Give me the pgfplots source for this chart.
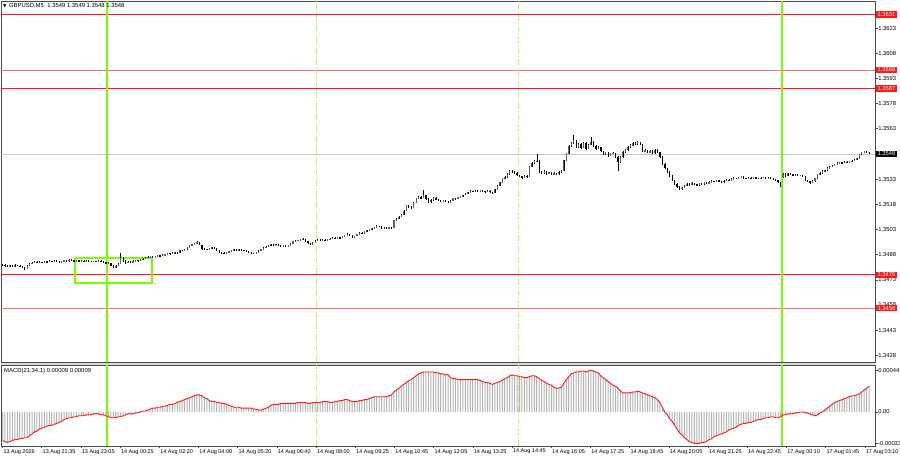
\documentclass[border=0pt]{standalone}
\usepackage{fontspec}
\setmainfont{Liberation Sans}
\newfontfamily\symfont{DejaVu Sans}
\usepackage{pgfplots}
\usepackage{pgfplotstable}
\pgfplotsset{compat=1.18}

\definecolor{mtgreen}{HTML}{7CFC00}
\definecolor{mtlight}{HTML}{C2F27E}
\definecolor{mtred}{HTML}{FF1A1A}
\definecolor{mtpink}{HTML}{FF6E6E}
\definecolor{histgray}{HTML}{B4B4B4}
\definecolor{framegray}{HTML}{4A4A4A}
\definecolor{bullgray}{HTML}{606060}

% GBPUSD M5 bars: open high low close, MACD(21,34,1)
\pgfplotstableread{
o h l c m
1.34822 1.34825 1.34815 1.34818 -30e-5
1.34818 1.34821 1.34809 1.34812 -31e-5
1.34812 1.34815 1.34804 1.34808 -32e-5
1.34808 1.34818 1.34806 1.34815 -31e-5
1.34815 1.34817 1.34808 1.34811 -30e-5
1.34811 1.34821 1.34809 1.34818 -29e-5
1.34818 1.34820 1.34810 1.34813 -29e-5
1.34813 1.34815 1.34805 1.34808 -28e-5
1.34808 1.34812 1.34801 1.34805 -28e-5
1.34805 1.34807 1.34790 1.34796 -27e-5
1.34796 1.34815 1.34794 1.34812 -27e-5
1.34812 1.34829 1.34810 1.34826 -25e-5
1.34826 1.34836 1.34823 1.34832 -23e-5
1.34832 1.34841 1.34829 1.34838 -21e-5
1.34838 1.34840 1.34827 1.34830 -20e-5
1.34830 1.34839 1.34828 1.34836 -18e-5
1.34836 1.34838 1.34830 1.34833 -17e-5
1.34833 1.34843 1.34831 1.34840 -16e-5
1.34840 1.34842 1.34833 1.34836 -15e-5
1.34836 1.34845 1.34834 1.34842 -14e-5
1.34842 1.34844 1.34835 1.34838 -14e-5
1.34838 1.34847 1.34836 1.34844 -13e-5
1.34844 1.34846 1.34837 1.34840 -12e-5
1.34840 1.34842 1.34832 1.34835 -11e-5
1.34835 1.34844 1.34833 1.34841 -10e-5
1.34841 1.34848 1.34839 1.34845 -8e-5
1.34845 1.34847 1.34837 1.34840 -7e-5
1.34840 1.34853 1.34838 1.34850 -6e-5
1.34850 1.34852 1.34843 1.34846 -6e-5
1.34846 1.34848 1.34839 1.34842 -5e-5
1.34842 1.34847 1.34840 1.34845 -5e-5
1.34845 1.34847 1.34839 1.34841 -4e-5
1.34841 1.34845 1.34839 1.34843 -4e-5
1.34843 1.34845 1.34838 1.34840 -4e-5
1.34840 1.34846 1.34838 1.34844 -3e-5
1.34844 1.34846 1.34839 1.34841 -3e-5
1.34841 1.34843 1.34836 1.34838 -3e-5
1.34838 1.34844 1.34836 1.34842 -2e-5
1.34842 1.34844 1.34838 1.34840 -2e-5
1.34840 1.34845 1.34838 1.34843 -2e-5
1.34843 1.34845 1.34835 1.34838 -3e-5
1.34838 1.34840 1.34831 1.34834 -3e-5
1.34834 1.34836 1.34825 1.34828 -4e-5
1.34828 1.34833 1.34824 1.34830 -5e-5
1.34830 1.34832 1.34811 1.34815 -6e-5
1.34815 1.34818 1.34800 1.34805 -6e-5
1.34805 1.34815 1.34802 1.34812 -6e-5
1.34812 1.34828 1.34810 1.34824 -5e-5
1.34824 1.34888 1.34822 1.34860 -5e-5
1.34860 1.34864 1.34838 1.34842 -4e-5
1.34842 1.34845 1.34826 1.34830 -3e-5
1.34830 1.34841 1.34828 1.34838 -2e-5
1.34838 1.34840 1.34831 1.34834 -2e-5
1.34834 1.34845 1.34832 1.34842 -2e-5
1.34842 1.34850 1.34840 1.34847 -1e-5
1.34847 1.34849 1.34840 1.34843 -1e-5
1.34843 1.34855 1.34841 1.34852 0
1.34852 1.34858 1.34850 1.34855 1e-5
1.34855 1.34863 1.34853 1.34860 1e-5
1.34860 1.34869 1.34858 1.34866 2e-5
1.34866 1.34872 1.34864 1.34869 3e-5
1.34869 1.34871 1.34862 1.34865 4e-5
1.34865 1.34873 1.34863 1.34870 4e-5
1.34870 1.34877 1.34868 1.34874 5e-5
1.34874 1.34876 1.34869 1.34872 5e-5
1.34872 1.34881 1.34870 1.34878 6e-5
1.34878 1.34885 1.34876 1.34882 6e-5
1.34882 1.34891 1.34880 1.34888 7e-5
1.34888 1.34890 1.34882 1.34885 8e-5
1.34885 1.34893 1.34883 1.34890 8e-5
1.34890 1.34896 1.34888 1.34893 9e-5
1.34893 1.34895 1.34887 1.34890 10e-5
1.34890 1.34909 1.34888 1.34906 11e-5
1.34906 1.34909 1.34900 1.34903 12e-5
1.34903 1.34915 1.34901 1.34912 13e-5
1.34912 1.34925 1.34910 1.34922 14e-5
1.34922 1.34938 1.34920 1.34935 15e-5
1.34935 1.34944 1.34932 1.34940 16e-5
1.34940 1.34950 1.34938 1.34946 17e-5
1.34946 1.34958 1.34943 1.34952 18e-5
1.34952 1.34955 1.34935 1.34938 18e-5
1.34938 1.34940 1.34910 1.34915 17e-5
1.34915 1.34918 1.34906 1.34910 15e-5
1.34910 1.34916 1.34907 1.34912 14e-5
1.34912 1.34921 1.34910 1.34918 12e-5
1.34918 1.34926 1.34915 1.34922 11e-5
1.34922 1.34924 1.34912 1.34915 11e-5
1.34915 1.34917 1.34902 1.34905 10e-5
1.34905 1.34907 1.34890 1.34893 10e-5
1.34893 1.34896 1.34886 1.34890 9e-5
1.34890 1.34893 1.34883 1.34886 9e-5
1.34886 1.34895 1.34884 1.34892 8e-5
1.34892 1.34901 1.34890 1.34898 7e-5
1.34898 1.34907 1.34896 1.34904 6e-5
1.34904 1.34913 1.34902 1.34910 5e-5
1.34910 1.34912 1.34903 1.34906 5e-5
1.34906 1.34915 1.34904 1.34912 5e-5
1.34912 1.34914 1.34905 1.34908 4e-5
1.34908 1.34910 1.34901 1.34904 4e-5
1.34904 1.34906 1.34897 1.34900 4e-5
1.34900 1.34902 1.34892 1.34895 4e-5
1.34895 1.34897 1.34884 1.34888 4e-5
1.34888 1.34891 1.34882 1.34886 3e-5
1.34886 1.34897 1.34884 1.34894 3e-5
1.34894 1.34905 1.34892 1.34902 2e-5
1.34902 1.34915 1.34900 1.34912 2e-5
1.34912 1.34923 1.34910 1.34920 3e-5
1.34920 1.34929 1.34918 1.34926 4e-5
1.34926 1.34935 1.34924 1.34932 5e-5
1.34932 1.34943 1.34930 1.34940 7e-5
1.34940 1.34943 1.34935 1.34938 8e-5
1.34938 1.34945 1.34936 1.34942 8e-5
1.34942 1.34944 1.34933 1.34936 8e-5
1.34936 1.34938 1.34927 1.34930 9e-5
1.34930 1.34937 1.34928 1.34934 9e-5
1.34934 1.34936 1.34925 1.34928 9e-5
1.34928 1.34937 1.34926 1.34934 9e-5
1.34934 1.34948 1.34932 1.34945 9e-5
1.34945 1.34961 1.34943 1.34958 9e-5
1.34958 1.34965 1.34956 1.34962 9e-5
1.34962 1.34969 1.34960 1.34966 10e-5
1.34966 1.34973 1.34964 1.34970 10e-5
1.34970 1.34976 1.34968 1.34972 10e-5
1.34972 1.34974 1.34957 1.34960 10e-5
1.34960 1.34962 1.34945 1.34948 9e-5
1.34948 1.34950 1.34937 1.34940 9e-5
1.34940 1.34953 1.34938 1.34950 10e-5
1.34950 1.34965 1.34948 1.34962 10e-5
1.34962 1.34971 1.34960 1.34968 10e-5
1.34968 1.34970 1.34964 1.34966 10e-5
1.34966 1.34970 1.34964 1.34968 11e-5
1.34968 1.34970 1.34965 1.34967 11e-5
1.34967 1.34972 1.34965 1.34970 11e-5
1.34970 1.34978 1.34968 1.34975 10e-5
1.34975 1.34983 1.34973 1.34980 10e-5
1.34980 1.34982 1.34973 1.34976 11e-5
1.34976 1.34987 1.34974 1.34984 11e-5
1.34984 1.34986 1.34975 1.34978 12e-5
1.34978 1.34993 1.34976 1.34990 12e-5
1.34990 1.34999 1.34988 1.34996 13e-5
1.34996 1.35006 1.34994 1.35002 13e-5
1.35002 1.35004 1.34991 1.34994 12e-5
1.34994 1.34996 1.34978 1.34982 11e-5
1.34982 1.34993 1.34980 1.34990 11e-5
1.34990 1.35003 1.34988 1.35000 11e-5
1.35000 1.35013 1.34998 1.35010 12e-5
1.35010 1.35012 1.35003 1.35006 12e-5
1.35006 1.35021 1.35004 1.35018 13e-5
1.35018 1.35027 1.35016 1.35024 13e-5
1.35024 1.35033 1.35022 1.35030 14e-5
1.35030 1.35039 1.35028 1.35036 15e-5
1.35036 1.35045 1.35034 1.35042 16e-5
1.35042 1.35054 1.35040 1.35050 16e-5
1.35050 1.35052 1.35043 1.35046 16e-5
1.35046 1.35048 1.35035 1.35038 16e-5
1.35038 1.35043 1.35036 1.35040 16e-5
1.35040 1.35042 1.35033 1.35036 16e-5
1.35036 1.35045 1.35034 1.35042 17e-5
1.35042 1.35044 1.35037 1.35040 18e-5
1.35040 1.35088 1.35038 1.35085 21e-5
1.35085 1.35096 1.35082 1.35092 23e-5
1.35092 1.35108 1.35090 1.35104 25e-5
1.35104 1.35122 1.35101 1.35118 27e-5
1.35118 1.35145 1.35115 1.35140 29e-5
1.35140 1.35178 1.35138 1.35172 31e-5
1.35172 1.35176 1.35160 1.35166 33e-5
1.35166 1.35170 1.35152 1.35158 34e-5
1.35158 1.35192 1.35155 1.35188 36e-5
1.35188 1.35220 1.35185 1.35215 38e-5
1.35215 1.35228 1.35210 1.35222 40e-5
1.35222 1.35230 1.35212 1.35218 41e-5
1.35218 1.35262 1.35215 1.35232 42e-5
1.35232 1.35236 1.35205 1.35212 42e-5
1.35212 1.35215 1.35186 1.35192 42e-5
1.35192 1.35210 1.35188 1.35205 42e-5
1.35205 1.35222 1.35200 1.35218 42e-5
1.35218 1.35222 1.35205 1.35210 41e-5
1.35210 1.35214 1.35198 1.35202 41e-5
1.35202 1.35206 1.35192 1.35196 40e-5
1.35196 1.35208 1.35193 1.35204 40e-5
1.35204 1.35207 1.35194 1.35198 39e-5
1.35198 1.35201 1.35188 1.35192 39e-5
1.35192 1.35204 1.35189 1.35200 36e-5
1.35200 1.35220 1.35198 1.35216 35e-5
1.35216 1.35219 1.35208 1.35212 35e-5
1.35212 1.35224 1.35210 1.35220 34e-5
1.35220 1.35231 1.35218 1.35228 34e-5
1.35228 1.35238 1.35225 1.35235 34e-5
1.35235 1.35246 1.35233 1.35242 34e-5
1.35242 1.35253 1.35240 1.35250 34e-5
1.35250 1.35262 1.35248 1.35258 34e-5
1.35258 1.35261 1.35252 1.35255 34e-5
1.35255 1.35264 1.35253 1.35260 34e-5
1.35260 1.35262 1.35253 1.35256 34e-5
1.35256 1.35265 1.35254 1.35262 33e-5
1.35262 1.35264 1.35255 1.35258 32e-5
1.35258 1.35260 1.35250 1.35254 31e-5
1.35254 1.35263 1.35252 1.35260 31e-5
1.35260 1.35262 1.35248 1.35252 30e-5
1.35252 1.35255 1.35242 1.35246 29e-5
1.35246 1.35272 1.35244 1.35268 30e-5
1.35268 1.35295 1.35265 1.35290 31e-5
1.35290 1.35315 1.35287 1.35310 32e-5
1.35310 1.35338 1.35306 1.35334 33e-5
1.35334 1.35348 1.35330 1.35342 35e-5
1.35342 1.35365 1.35338 1.35360 36e-5
1.35360 1.35386 1.35356 1.35380 38e-5
1.35380 1.35384 1.35366 1.35372 39e-5
1.35372 1.35378 1.35362 1.35368 38e-5
1.35368 1.35371 1.35346 1.35352 38e-5
1.35352 1.35356 1.35340 1.35345 37e-5
1.35345 1.35350 1.35332 1.35338 37e-5
1.35338 1.35355 1.35335 1.35350 36e-5
1.35350 1.35354 1.35336 1.35342 36e-5
1.35342 1.35410 1.35340 1.35405 37e-5
1.35405 1.35430 1.35400 1.35425 38e-5
1.35425 1.35445 1.35420 1.35438 38e-5
1.35438 1.35478 1.35432 1.35440 37e-5
1.35440 1.35444 1.35366 1.35372 35e-5
1.35372 1.35378 1.35360 1.35365 33e-5
1.35365 1.35382 1.35362 1.35378 32e-5
1.35378 1.35381 1.35356 1.35362 30e-5
1.35362 1.35375 1.35358 1.35370 29e-5
1.35370 1.35373 1.35352 1.35358 28e-5
1.35358 1.35370 1.35354 1.35366 26e-5
1.35366 1.35369 1.35355 1.35360 25e-5
1.35360 1.35376 1.35357 1.35372 25e-5
1.35372 1.35385 1.35368 1.35380 26e-5
1.35380 1.35445 1.35376 1.35440 30e-5
1.35440 1.35488 1.35436 1.35482 34e-5
1.35482 1.35534 1.35478 1.35528 37e-5
1.35528 1.35552 1.35522 1.35545 40e-5
1.35545 1.35592 1.35540 1.35560 41e-5
1.35560 1.35564 1.35516 1.35522 42e-5
1.35522 1.35546 1.35518 1.35540 42e-5
1.35540 1.35544 1.35512 1.35518 43e-5
1.35518 1.35550 1.35514 1.35545 43e-5
1.35545 1.35549 1.35506 1.35512 42e-5
1.35512 1.35540 1.35508 1.35535 43e-5
1.35535 1.35580 1.35530 1.35550 44e-5
1.35550 1.35554 1.35520 1.35525 43e-5
1.35525 1.35530 1.35506 1.35512 42e-5
1.35512 1.35526 1.35508 1.35520 41e-5
1.35520 1.35524 1.35490 1.35496 38e-5
1.35496 1.35500 1.35474 1.35480 36e-5
1.35480 1.35494 1.35476 1.35488 34e-5
1.35488 1.35492 1.35464 1.35470 32e-5
1.35470 1.35487 1.35466 1.35482 30e-5
1.35482 1.35490 1.35478 1.35485 28e-5
1.35485 1.35488 1.35456 1.35462 27e-5
1.35462 1.35466 1.35380 1.35430 25e-5
1.35430 1.35468 1.35426 1.35462 22e-5
1.35462 1.35495 1.35458 1.35490 20e-5
1.35490 1.35510 1.35486 1.35505 20e-5
1.35505 1.35526 1.35500 1.35520 20e-5
1.35520 1.35536 1.35516 1.35530 20e-5
1.35530 1.35550 1.35526 1.35545 21e-5
1.35545 1.35550 1.35532 1.35538 21e-5
1.35538 1.35554 1.35534 1.35548 22e-5
1.35548 1.35552 1.35530 1.35535 21e-5
1.35535 1.35538 1.35490 1.35495 20e-5
1.35495 1.35508 1.35490 1.35502 19e-5
1.35502 1.35506 1.35484 1.35490 18e-5
1.35490 1.35504 1.35486 1.35498 17e-5
1.35498 1.35502 1.35480 1.35485 16e-5
1.35485 1.35510 1.35482 1.35505 15e-5
1.35505 1.35508 1.35485 1.35490 13e-5
1.35490 1.35494 1.35456 1.35462 10e-5
1.35462 1.35466 1.35414 1.35420 5e-5
1.35420 1.35424 1.35388 1.35395 0
1.35395 1.35398 1.35366 1.35372 -3e-5
1.35372 1.35376 1.35342 1.35348 -7e-5
1.35348 1.35352 1.35316 1.35322 -10e-5
1.35322 1.35326 1.35294 1.35300 -14e-5
1.35300 1.35305 1.35276 1.35282 -18e-5
1.35282 1.35286 1.35264 1.35270 -22e-5
1.35270 1.35284 1.35266 1.35278 -24e-5
1.35278 1.35295 1.35274 1.35290 -27e-5
1.35290 1.35307 1.35286 1.35302 -29e-5
1.35302 1.35306 1.35291 1.35296 -31e-5
1.35296 1.35310 1.35292 1.35306 -32e-5
1.35306 1.35309 1.35296 1.35300 -33e-5
1.35300 1.35303 1.35289 1.35294 -33e-5
1.35294 1.35309 1.35291 1.35305 -33e-5
1.35305 1.35308 1.35296 1.35300 -32e-5
1.35300 1.35313 1.35297 1.35310 -32e-5
1.35310 1.35312 1.35298 1.35302 -31e-5
1.35302 1.35316 1.35299 1.35312 -29e-5
1.35312 1.35322 1.35309 1.35318 -28e-5
1.35318 1.35321 1.35311 1.35315 -26e-5
1.35315 1.35326 1.35312 1.35322 -25e-5
1.35322 1.35325 1.35312 1.35316 -24e-5
1.35316 1.35319 1.35308 1.35312 -23e-5
1.35312 1.35323 1.35309 1.35320 -22e-5
1.35320 1.35330 1.35317 1.35326 -21e-5
1.35326 1.35329 1.35318 1.35322 -19e-5
1.35322 1.35334 1.35319 1.35330 -18e-5
1.35330 1.35340 1.35327 1.35336 -17e-5
1.35336 1.35339 1.35328 1.35332 -16e-5
1.35332 1.35344 1.35329 1.35340 -14e-5
1.35340 1.35349 1.35337 1.35345 -13e-5
1.35345 1.35347 1.35332 1.35336 -12e-5
1.35336 1.35339 1.35328 1.35332 -12e-5
1.35332 1.35341 1.35329 1.35338 -11e-5
1.35338 1.35340 1.35330 1.35334 -11e-5
1.35334 1.35343 1.35331 1.35340 -10e-5
1.35340 1.35342 1.35332 1.35336 -9e-5
1.35336 1.35338 1.35329 1.35332 -8e-5
1.35332 1.35341 1.35329 1.35338 -8e-5
1.35338 1.35345 1.35335 1.35342 -7e-5
1.35342 1.35344 1.35333 1.35336 -6e-5
1.35336 1.35341 1.35333 1.35338 -6e-5
1.35338 1.35340 1.35331 1.35334 -5e-5
1.35334 1.35336 1.35327 1.35330 -5e-5
1.35330 1.35332 1.35318 1.35322 -6e-5
1.35322 1.35325 1.35308 1.35312 -6e-5
1.35312 1.35315 1.35280 1.35286 -5e-5
1.35340 1.35368 1.35336 1.35362 -3e-5
1.35362 1.35366 1.35345 1.35350 -3e-5
1.35350 1.35369 1.35347 1.35365 -2e-5
1.35365 1.35368 1.35354 1.35358 -2e-5
1.35358 1.35361 1.35348 1.35352 -2e-5
1.35352 1.35359 1.35349 1.35356 -1e-5
1.35356 1.35358 1.35346 1.35350 -1e-5
1.35350 1.35357 1.35347 1.35354 0
1.35354 1.35356 1.35341 1.35345 0
1.35345 1.35347 1.35317 1.35322 -1e-5
1.35322 1.35325 1.35310 1.35315 -1e-5
1.35315 1.35318 1.35303 1.35308 -2e-5
1.35308 1.35322 1.35305 1.35318 -3e-5
1.35318 1.35339 1.35315 1.35335 -4e-5
1.35335 1.35362 1.35332 1.35358 -3e-5
1.35358 1.35370 1.35355 1.35366 -1e-5
1.35366 1.35382 1.35363 1.35378 0
1.35378 1.35386 1.35375 1.35382 2e-5
1.35382 1.35399 1.35379 1.35395 4e-5
1.35395 1.35406 1.35392 1.35402 6e-5
1.35402 1.35412 1.35399 1.35408 8e-5
1.35408 1.35422 1.35405 1.35418 10e-5
1.35418 1.35429 1.35415 1.35425 11e-5
1.35425 1.35434 1.35422 1.35430 12e-5
1.35430 1.35433 1.35424 1.35427 13e-5
1.35427 1.35436 1.35424 1.35432 14e-5
1.35432 1.35435 1.35425 1.35428 15e-5
1.35428 1.35438 1.35425 1.35435 16e-5
1.35435 1.35444 1.35432 1.35440 17e-5
1.35440 1.35448 1.35437 1.35445 17e-5
1.35445 1.35456 1.35442 1.35452 18e-5
1.35452 1.35482 1.35449 1.35478 19e-5
1.35478 1.35492 1.35475 1.35488 21e-5
1.35488 1.35500 1.35485 1.35496 23e-5
1.35496 1.35499 1.35486 1.35490 25e-5
1.35490 1.35490 1.35480 1.35480 27e-5
}\bars

\begin{document}
\begin{tikzpicture}[x=1pt,y=1pt]
\useasboundingbox (0,0) rectangle (900,460);
\coordinate (topP) at (1,459);
\coordinate (topM) at (1,94.5);
\pgfplotsset{
  mtpanel/.style={
    scale only axis, width=874pt,
    xmin=-0.61, xmax=354.4,
    axis line style={framegray, line width=0.8pt},
    tick style={framegray, line width=0.5pt},
    tick align=outside, major tick length=2.5pt,
    ytick pos=right, yticklabel pos=right,
    scaled y ticks=false, scaled x ticks=false,
    yticklabel style={anchor=west, inner sep=0.6pt, font=\fontsize{5.8}{6.3}\selectfont, text=black},
    xticklabel style={font=\fontsize{5.5}{6}\selectfont, text=black},
  },
  wick/.style={draw=none, mark=none, forget plot,
    error bars/.cd, y dir=both, y explicit, error mark=none,
    error bar style={draw=black, line width=0.45pt}},
  body/.style={draw=none, mark=none, forget plot,
    error bars/.cd, y dir=both, y explicit, error mark=none,
    error bar style={draw=#1, line width=1.15pt}},
}
\fill[gray!30] (1,94.5) rectangle (875,97.5);

% price panel
\begin{axis}[mtpanel, at={(topP)}, anchor=north west, height=361.5pt,
  ymin=1.34237, ymax=1.36391, clip=false, xtick=\empty,
  ytick={1.3428,1.3443,1.3458,1.3473,1.3488,1.3503,1.3518,1.3533,1.3548,1.3563,1.3578,1.3593,1.3608,1.3623},
  yticklabels={1.3428,1.3443,1.3458,1.3473,1.3488,1.3503,1.3518,1.3533,1.3548,1.3563,1.3578,1.3593,1.3608,1.3623}]
\addplot[mtred, line width=0.8pt, forget plot] coordinates {(-0.61,1.3631) (354.4,1.3631)};
\addplot[mtpink, line width=0.8pt, forget plot] coordinates {(-0.61,1.3598) (354.4,1.3598)};
\addplot[mtred, line width=1.5pt, forget plot] coordinates {(-0.61,1.3587) (354.4,1.3587)};
\addplot[mtred, line width=1.5pt, forget plot] coordinates {(-0.61,1.3476) (354.4,1.3476)};
\addplot[mtpink, line width=0.8pt, forget plot] coordinates {(-0.61,1.3456) (354.4,1.3456)};
\addplot[gray!45, line width=0.7pt, forget plot] coordinates {(-0.61,1.3548) (354.4,1.3548)};
\addplot[mtgreen, line width=1.2pt, forget plot] coordinates {(42.45,1.34237) (42.45,1.36391)};
\addplot[mtgreen, line width=1.2pt, forget plot] coordinates {(316.6,1.34237) (316.6,1.36391)};
\addplot[mtlight, line width=1pt, dash pattern=on 6pt off 2pt on 1pt off 2pt, forget plot] coordinates {(127.34,1.34237) (127.34,1.36391)};
\addplot[mtlight, line width=1pt, dash pattern=on 6pt off 2pt on 1pt off 2pt, forget plot] coordinates {(209.79,1.34237) (209.79,1.36391)};
\addplot[mtgreen, line width=1.5pt, forget plot] coordinates {(29.4,1.34859) (60.7,1.34859) (60.7,1.34710) (29.4,1.34710) (29.4,1.34859)};
\addplot[wick] table[x expr=\coordindex, y expr=0.5*(\thisrow{h}+\thisrow{l}), y error expr=0.5*(\thisrow{h}-\thisrow{l})] {\bars};
\addplot[body=bullgray] table[x expr=\coordindex, y expr={ifthenelse(\thisrow{c}>=\thisrow{o},0.5*(\thisrow{o}+\thisrow{c}),nan)}, y error expr={0.5*abs(\thisrow{c}-\thisrow{o})+0.000006}] {\bars};
\addplot[body=black] table[x expr=\coordindex, y expr={ifthenelse(\thisrow{c}<\thisrow{o},0.5*(\thisrow{o}+\thisrow{c}),nan)}, y error expr={0.5*abs(\thisrow{c}-\thisrow{o})+0.000006}] {\bars};
\node[anchor=west, inner sep=0, font=\fontsize{5.9}{6.4}\selectfont] at (axis description cs:0.0023,0.986)
  {{\symfont\fontsize{4.4}{5}\selectfont ▼}\hspace{2.5pt}GBPUSD,M5\hspace{3.5pt}1.3549 1.3549 1.3548 1.3548};
\coordinate (r1) at (axis cs:354.4,1.3631);
\coordinate (r2) at (axis cs:354.4,1.3598);
\coordinate (r3) at (axis cs:354.4,1.3587);
\coordinate (r4) at (axis cs:354.4,1.3476);
\coordinate (r5) at (axis cs:354.4,1.3456);
\coordinate (pc) at (axis cs:354.4,1.3548);
\end{axis}

\begin{scope}[every node/.style={anchor=west, inner xsep=1.6pt, inner ysep=1.1pt, text=white, font=\fontsize{5.8}{6.3}\selectfont, xshift=0.8pt}]
\node[fill=mtred] at (r1) {1.3631};
\node[fill=mtred] at (r2) {1.3598};
\node[fill=mtred] at (r3) {1.3587};
\node[fill=mtred] at (r4) {1.3476};
\node[fill=mtred] at (r5) {1.3456};
\node[fill=black] at (pc) {1.3548};
\end{scope}

% MACD panel
\begin{axis}[mtpanel, at={(topM)}, anchor=north west, height=80.5pt,
  ymin=-0.000357, ymax=0.000488,
  ytick={-0.00033,0,0.00044}, yticklabels={-0.00033,0.00,0.00044},
  xtick pos=bottom,
  xtick={0,15.92,31.84,47.76,63.68,79.6,95.52,111.44,127.36,143.28,159.2,175.12,191.04,206.96,222.88,238.8,254.72,270.64,286.56,302.48,318.4,334.32,350.24},
  xticklabels={13 Aug 2026,13 Aug 21:35,13 Aug 23:05,14 Aug 00:25,14 Aug 02:20,14 Aug 04:00,14 Aug 05:20,14 Aug 06:40,14 Aug 08:00,14 Aug 09:25,14 Aug 10:45,14 Aug 12:05,14 Aug 13:25,14 Aug 14:45,14 Aug 16:05,14 Aug 17:25,14 Aug 18:45,14 Aug 20:05,14 Aug 21:25,14 Aug 22:45,17 Aug 00:10,17 Aug 01:45,17 Aug 03:10},
  xticklabel style={anchor=north west, inner sep=0.5pt, xshift=0.3pt}]
\addplot[ybar, bar width=1pt, bar shift=0pt, fill=histgray, draw=none, forget plot] table[x expr=\coordindex, y=m] {\bars};
\addplot[mtgreen, line width=1.2pt, forget plot] coordinates {(42.45,-0.000357) (42.45,0.000488)};
\addplot[mtgreen, line width=1.2pt, forget plot] coordinates {(316.6,-0.000357) (316.6,0.000488)};
\addplot[mtlight, line width=1pt, dash pattern=on 6pt off 2pt on 1pt off 2pt, forget plot] coordinates {(127.34,-0.000357) (127.34,0.000488)};
\addplot[mtlight, line width=1pt, dash pattern=on 6pt off 2pt on 1pt off 2pt, forget plot] coordinates {(209.79,-0.000357) (209.79,0.000488)};
\addplot[red!90!white, line width=0.9pt, mark=none] table[x expr=\coordindex, y=m] {\bars};
\node[anchor=west, inner sep=0, font=\fontsize{5.9}{6.4}\selectfont] at (axis description cs:0.0034,0.935) {MACD(21,34,1) 0.00009 0.00009};
\end{axis}
\end{tikzpicture}
\end{document}
